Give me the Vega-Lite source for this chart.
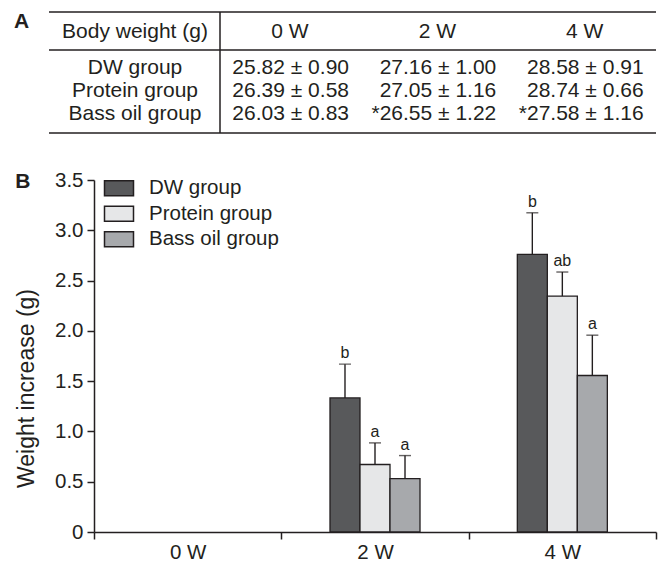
{
  "$schema": "https://vega.github.io/schema/vega-lite/v6.json",
  "autosize": {"type": "pad"},
  "padding": {"left": 13, "top": 11, "right": 5, "bottom": 0},
  "background": "white",
  "spacing": 36,
  "resolve": {"legend": {"fill": "independent"}},
  "config": {
    "font": "Liberation Sans",
    "view": {"stroke": null},
    "text": {"font": "Liberation Sans", "color": "#231f20"},
    "axis": {
      "labelFont": "Liberation Sans", "titleFont": "Liberation Sans",
      "labelColor": "#231f20", "titleColor": "#231f20",
      "domainColor": "#231f20", "tickColor": "#231f20",
      "labelFontSize": 20.5, "titleFontSize": 20.5, "titleFontWeight": "normal",
      "domainWidth": 1.5, "tickWidth": 1.5, "grid": false
    }
  },
  "datasets": {
    "table": [
      {"row": 0, "col": 0, "text": "Body weight (g)"},
      {"row": 0, "col": 1, "text": "0 W"},
      {"row": 0, "col": 2, "text": "2 W"},
      {"row": 0, "col": 3, "text": "4 W"},
      {"row": 1, "col": 0, "text": "DW group"},
      {"row": 1, "col": 1, "text": "25.82 ± 0.90"},
      {"row": 1, "col": 2, "text": "27.16 ± 1.00"},
      {"row": 1, "col": 3, "text": "28.58 ± 0.91"},
      {"row": 2, "col": 0, "text": "Protein group"},
      {"row": 2, "col": 1, "text": "26.39 ± 0.58"},
      {"row": 2, "col": 2, "text": "27.05 ± 1.16"},
      {"row": 2, "col": 3, "text": "28.74 ± 0.66"},
      {"row": 3, "col": 0, "text": "Bass oil group"},
      {"row": 3, "col": 1, "text": "26.03 ± 0.83"},
      {"row": 3, "col": 2, "text": "*26.55 ± 1.22"},
      {"row": 3, "col": 3, "text": "*27.58 ± 1.16"}
    ],
    "bars": [
      {"week": "2 W", "group": "DW group", "mean": 1.333, "upper": 1.669, "letter": "b"},
      {"week": "2 W", "group": "Protein group", "mean": 0.671, "upper": 0.886, "letter": "a"},
      {"week": "2 W", "group": "Bass oil group", "mean": 0.531, "upper": 0.760, "letter": "a"},
      {"week": "4 W", "group": "DW group", "mean": 2.760, "upper": 3.174, "letter": "b"},
      {"week": "4 W", "group": "Protein group", "mean": 2.346, "upper": 2.585, "letter": "ab"},
      {"week": "4 W", "group": "Bass oil group", "mean": 1.556, "upper": 1.957, "letter": "a"}
    ]
  },
  "vconcat": [
    {
      "width": 562,
      "height": 121,
      "layer": [
        {
          "data": {"values": [{}]},
          "mark": {"type": "rule", "strokeWidth": 1.5, "color": "#231f20"},
          "encoding": {
            "y": {"datum": -1.696, "type": "quantitative", "scale": {"domain": [-1.696, 3.565], "reverse": true, "nice": false, "zero": false}, "axis": null},
            "x": {"datum": -0.6361, "type": "quantitative", "scale": {"domain": [-0.3306, 3.4847], "nice": false, "zero": false}, "axis": null},
            "x2": {"datum": 3.4847}
          }
        },
        {
          "data": {"values": [{}]},
          "mark": {"type": "rule", "strokeWidth": 1.5, "color": "#231f20"},
          "encoding": {
            "y": {"datum": -0.0438, "type": "quantitative"},
            "x": {"datum": -0.6361, "type": "quantitative"},
            "x2": {"datum": 3.4847}
          }
        },
        {
          "data": {"values": [{}]},
          "mark": {"type": "rule", "strokeWidth": 1.5, "color": "#231f20"},
          "encoding": {
            "y": {"datum": 3.565, "type": "quantitative"},
            "x": {"datum": -0.6361, "type": "quantitative"},
            "x2": {"datum": 3.4847}
          }
        },
        {
          "data": {"values": [{}]},
          "mark": {"type": "rule", "strokeWidth": 1.5, "color": "#231f20"},
          "encoding": {
            "x": {"datum": 0.5248, "type": "quantitative"}
          }
        },
        {
          "data": {"values": [{"label": "A"}]},
          "mark": {"type": "text", "fontSize": 21, "fontWeight": "bold", "align": "left", "baseline": "alphabetic"},
          "encoding": {
            "x": {"datum": -0.874, "type": "quantitative"},
            "y": {"datum": -0.987, "type": "quantitative"},
            "text": {"field": "label"}
          }
        },
        {
          "data": {"name": "table"},
          "transform": [{"filter": "datum.row == 0 && datum.col == 0"}],
          "mark": {"type": "text", "fontSize": 21, "align": "center", "baseline": "alphabetic", "dx": -7.7, "dy": -13.5},
          "encoding": {
            "x": {"field": "col", "type": "quantitative"},
            "y": {"field": "row", "type": "quantitative"},
            "text": {"field": "text"}
          }
        },
        {
          "data": {"name": "table"},
          "transform": [{"filter": "datum.row == 0 && datum.col > 0"}],
          "mark": {"type": "text", "fontSize": 21, "align": "center", "baseline": "alphabetic", "dy": -13.5},
          "encoding": {
            "x": {"field": "col", "type": "quantitative"},
            "y": {"field": "row", "type": "quantitative"},
            "text": {"field": "text"}
          }
        },
        {
          "data": {"name": "table"},
          "transform": [{"filter": "datum.row > 0 && datum.col == 0"}],
          "mark": {"type": "text", "fontSize": 21, "align": "center", "baseline": "alphabetic", "dx": -7.7},
          "encoding": {
            "x": {"field": "col", "type": "quantitative"},
            "y": {"field": "row", "type": "quantitative"},
            "text": {"field": "text"}
          }
        },
        {
          "data": {"name": "table"},
          "transform": [{"filter": "datum.row > 0 && datum.col > 0"}],
          "mark": {"type": "text", "fontSize": 21, "align": "right", "baseline": "alphabetic", "dx": 59},
          "encoding": {
            "x": {"field": "col", "type": "quantitative"},
            "y": {"field": "row", "type": "quantitative"},
            "text": {"field": "text"}
          }
        }
      ]
    },
    {
      "width": 562,
      "height": 352,
      "layer": [
        {
          "data": {"name": "bars"},
          "mark": {"type": "bar", "stroke": "#231f20", "strokeWidth": 1.3},
          "encoding": {
            "x": {
              "field": "week", "type": "nominal",
              "scale": {"domain": ["0 W", "2 W", "4 W"], "paddingInner": 0, "paddingOuter": 0},
              "axis": {"title": null, "labelAngle": 0, "tickBand": "extent", "tickSize": 7, "labelPadding": 3}
            },
            "xOffset": {
              "field": "group", "type": "nominal",
              "scale": {"domain": ["_l", "DW group", "Protein group", "Bass oil group", "_r"], "paddingInner": 0, "paddingOuter": 0.6217}
            },
            "y": {
              "field": "mean", "type": "quantitative",
              "scale": {"domain": [0, 3.5], "nice": false},
              "axis": {
                "values": [0, 0.5, 1, 1.5, 2, 2.5, 3, 3.5],
                "labelExpr": "datum.value === 0 ? '0' : format(datum.value, '.1f')",
                "title": "Weight increase (g)",
                "titleFontSize": 23, "titleY": 208,
                "tickSize": 7, "labelPadding": 4, "titlePadding": 16
              }
            },
            "fill": {
              "field": "group", "type": "nominal",
              "scale": {"domain": ["DW group", "Protein group", "Bass oil group"], "range": ["#58595b", "#e6e7e8", "#a7a9ac"]},
              "legend": {
                "title": null, "orient": "none", "legendX": 14, "legendY": -2.75,
                "symbolType": "M-1.45,-0.75H1.45V0.75H-1.45Z", "symbolSize": 400,
                "symbolStrokeColor": "#231f20", "symbolStrokeWidth": 1.5, "symbolOpacity": 1,
                "labelFontSize": 20.5, "labelFont": "Liberation Sans", "labelColor": "#231f20",
                "labelOffset": 19, "rowPadding": 3.5, "padding": 0
              }
            }
          }
        },
        {
          "data": {"name": "bars"},
          "mark": {"type": "rule", "color": "#231f20", "strokeWidth": 1.4},
          "encoding": {
            "x": {"field": "week", "type": "nominal"},
            "xOffset": {"field": "group", "type": "nominal"},
            "y": {"field": "upper", "type": "quantitative"},
            "y2": {"field": "mean"}
          }
        },
        {
          "data": {"name": "bars"},
          "mark": {"type": "tick", "color": "#231f20", "size": 12, "thickness": 1.4},
          "encoding": {
            "x": {"field": "week", "type": "nominal"},
            "xOffset": {"field": "group", "type": "nominal"},
            "y": {"field": "upper", "type": "quantitative"}
          }
        },
        {
          "data": {"name": "bars"},
          "mark": {"type": "text", "fontSize": 16, "baseline": "alphabetic", "dy": -6, "color": "#231f20"},
          "encoding": {
            "x": {"field": "week", "type": "nominal"},
            "xOffset": {"field": "group", "type": "nominal"},
            "y": {"field": "upper", "type": "quantitative"},
            "text": {"field": "letter"}
          }
        },
        {
          "data": {"values": [{"label": "B"}]},
          "mark": {"type": "text", "fontSize": 21, "fontWeight": "bold", "align": "left", "baseline": "alphabetic", "dx": -172.5, "dy": 8},
          "encoding": {
            "x": {"datum": "0 W", "type": "nominal"},
            "y": {"datum": 3.5, "type": "quantitative"},
            "text": {"field": "label"}
          }
        }
      ]
    }
  ]
}
